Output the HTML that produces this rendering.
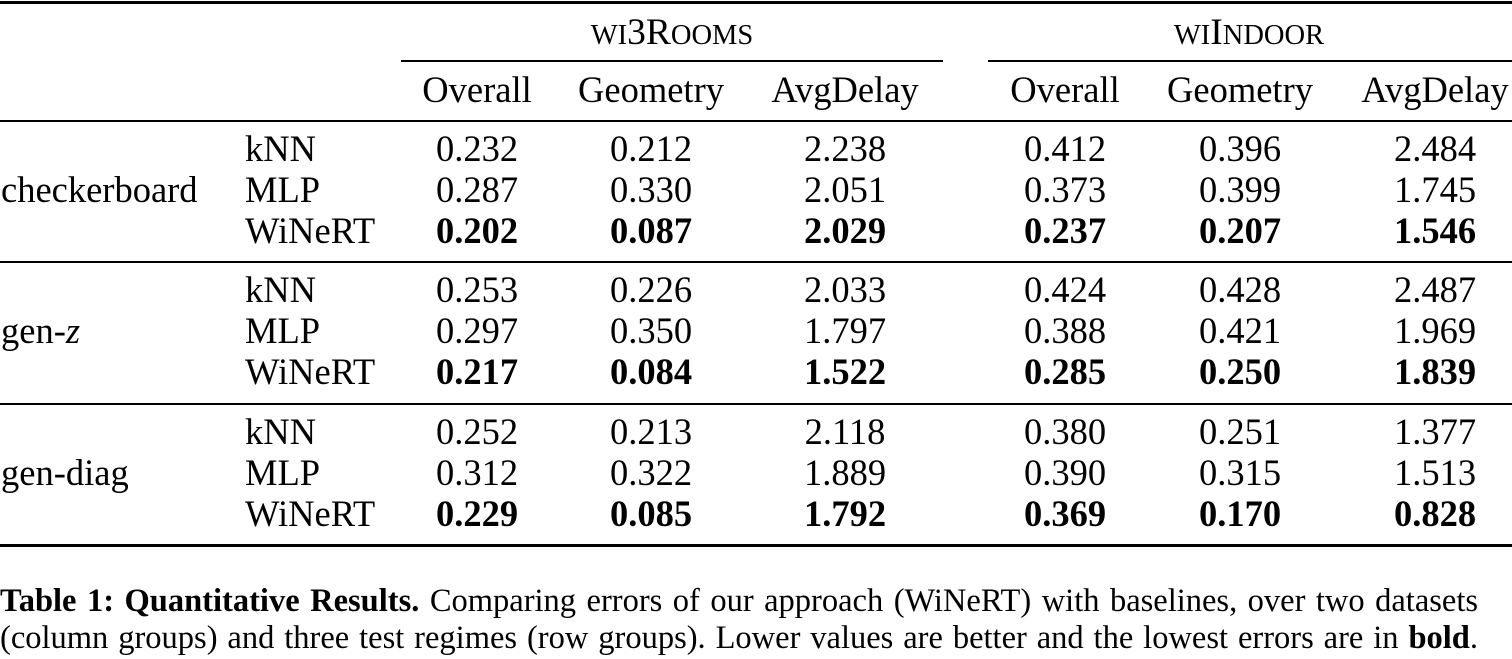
<!DOCTYPE html>
<html><head><meta charset="utf-8"><style>
body{margin:0;width:1512px;height:659px;background:#fff;position:relative;overflow:hidden;font-family:"Liberation Serif",serif;color:#000}
.t{position:absolute;font-size:36.5px;line-height:36px;white-space:nowrap}
.c{transform:translateX(-50%)}
.b{font-weight:bold}
.r{position:absolute;background:#000;left:0;width:1512px}
.cap{position:absolute;left:0;width:1478px;font-size:32.5px;line-height:34px;text-align:justify;text-align-last:justify;white-space:nowrap}
.s{font-size:28.5px}
</style></head><body>
<div class="r" style="top:1px;height:3px"></div>
<div class="r" style="top:60px;height:2px;left:401px;width:542px"></div>
<div class="r" style="top:60px;height:2px;left:988px;width:524px"></div>
<div class="r" style="top:120px;height:2px"></div>
<div class="r" style="top:261px;height:2px"></div>
<div class="r" style="top:403px;height:2px"></div>
<div class="r" style="top:544px;height:3px"></div>

<div class="t c" style="left:672px;top:15px;font-size:37.5px"><span class="s">WI</span>3R<span class="s">OOMS</span></div>
<div class="t c" style="left:1249px;top:15px;font-size:37.5px"><span class="s">WI</span>I<span class="s">NDOOR</span></div>

<div id="g"></div>
<script>
const cols=[477,651,845,1065,1240,1435];
let h='';
const head=['Overall','Geometry','AvgDelay','Overall','Geometry','AvgDelay'];
head.forEach((s,i)=>h+=`<div class="t c" style="left:${cols[i]}px;top:72px">${s}</div>`);
const groups=[['checkerboard',[149,190,231],[['0.232','0.212','2.238','0.412','0.396','2.484'],['0.287','0.330','2.051','0.373','0.399','1.745'],['0.202','0.087','2.029','0.237','0.207','1.546']]],
['gen-<span style="font-style:italic">z</span>',[290,331,372],[['0.253','0.226','2.033','0.424','0.428','2.487'],['0.297','0.350','1.797','0.388','0.421','1.969'],['0.217','0.084','1.522','0.285','0.250','1.839']]],
['gen-diag',[432,473,514],[['0.252','0.213','2.118','0.380','0.251','1.377'],['0.312','0.322','1.889','0.390','0.315','1.513'],['0.229','0.085','1.792','0.369','0.170','0.828']]]];
const m=['kNN','MLP','WiNeRT'];
groups.forEach(([name,ys,rows])=>{
 h+=`<div class="t" style="left:1px;top:${ys[1]-18}px">${name}</div>`;
 rows.forEach((r,j)=>{
  h+=`<div class="t" style="left:245px;top:${ys[j]-18}px">${m[j]}</div>`;
  r.forEach((v,i)=>h+=`<div class="t c${j==2?' b':''}" style="left:${cols[i]}px;top:${ys[j]-18}px">${v}</div>`);
 });
});
document.getElementById('g').innerHTML=h;
</script>
<div class="cap" style="top:584px"><b>Table 1: Quantitative Results.</b> Comparing errors of our approach (WiNeRT) with baselines, over two datasets</div>
<div class="cap" style="top:621px">(column groups) and three test regimes (row groups). Lower values are better and the lowest errors are in <b>bold</b>.</div>
</body></html>
